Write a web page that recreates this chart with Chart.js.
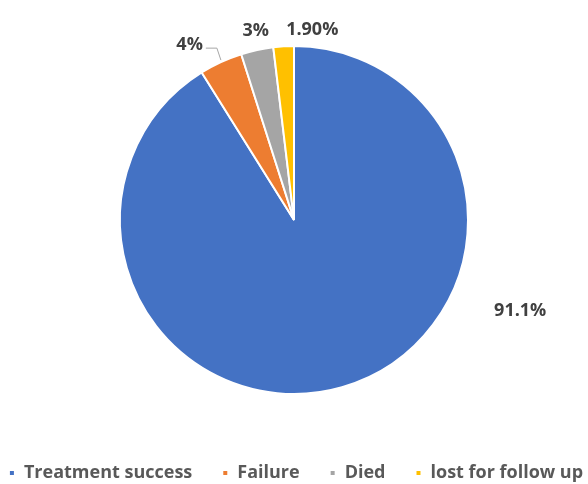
<!DOCTYPE html>
<html>
<head>
<meta charset="utf-8">
<script src="https://cdn.jsdelivr.net/npm/chart.js@4.4.1/dist/chart.umd.min.js"></script>
<style>
    html, body { margin: 0; padding: 0; background: #ffffff; }
    #wrap { position: relative; width: 588px; height: 484px; }
</style>
</head>
<body>
<div id="wrap"><canvas id="chart-canvas"></canvas></div>
<script>
// Outcome categories and their shares (%)
const categories = ['Treatment success', 'Failure', 'Died', 'lost for follow up'];
const shares = [91.1, 4, 3, 1.9];
const shareLabels = ['91.1%', '4%', '3%', '1.90%'];

// Office-style palette
const sliceColors = ['#4472C4', '#ED7D31', '#A5A5A5', '#FFC000'];

// Where each value label sits, in units of the pie radius from its centre
const labelOffsets = [[1.30, 0.52], [-0.60, -1.005], [-0.22, -1.085], [0.105, -1.09]];
const leaderLines = [false, true, false, false];

// Draws the percentage labels (and a leader line where needed)
const valueLabels = {
    id: 'valueLabels',
    afterDatasetsDraw(chart) {
        const ctx = chart.ctx;
        const arcs = chart.getDatasetMeta(0).data;
        ctx.save();
        ctx.font = 'bold 18px "Open Sans", sans-serif';
        ctx.fillStyle = '#404040';
        ctx.textAlign = 'center';
        ctx.textBaseline = 'middle';
        arcs.forEach((arc, i) => {
            const r = arc.outerRadius;
            const lx = arc.x + labelOffsets[i][0] * r;
            const ly = arc.y + labelOffsets[i][1] * r;
            ctx.fillText(shareLabels[i], lx, ly);

            if (leaderLines[i]) {
                const mid = (arc.startAngle + arc.endAngle) / 2;
                const ex = arc.x + Math.cos(mid) * r;
                const ey = arc.y + Math.sin(mid) * r;
                const w = ctx.measureText(shareLabels[i]).width;
                ctx.beginPath();
                ctx.strokeStyle = '#A6A6A6';
                ctx.lineWidth = 1;
                ctx.moveTo(lx + w / 2 + 3, ly + 3);
                ctx.lineTo(ex - 4, ly + 3);
                ctx.lineTo(ex, ey - 2);
                ctx.stroke();
            }
        });
        ctx.restore();
    }
};

const ctx = document.getElementById('chart-canvas');

new Chart(ctx, {
    type: 'pie',
    data: {
        labels: categories,
        datasets: [{
            data: shares,
            backgroundColor: sliceColors,
            borderColor: '#ffffff',
            borderWidth: 2,
            radius: 174
        }]
    },
    options: {
        responsive: true,
        maintainAspectRatio: false,
        animation: false,
        layout: {
            // negative side padding gives the legend row enough room to stay on one line
            padding: { top: 6, bottom: 0, left: -28, right: -32 }
        },
        plugins: {
            legend: {
                display: true,
                position: 'bottom',
                maxHeight: 50, // keeps the legend row close to the bottom edge
                labels: {
                    boxWidth: 6,
                    boxHeight: 6,
                    padding: 30,
                    color: '#595959',
                    font: {
                        family: '"Open Sans", sans-serif',
                        size: 18,
                        weight: 'bold'
                    }
                }
            },
            tooltip: { enabled: false }
        }
    },
    plugins: [valueLabels]
});
</script>
</body>
</html>
